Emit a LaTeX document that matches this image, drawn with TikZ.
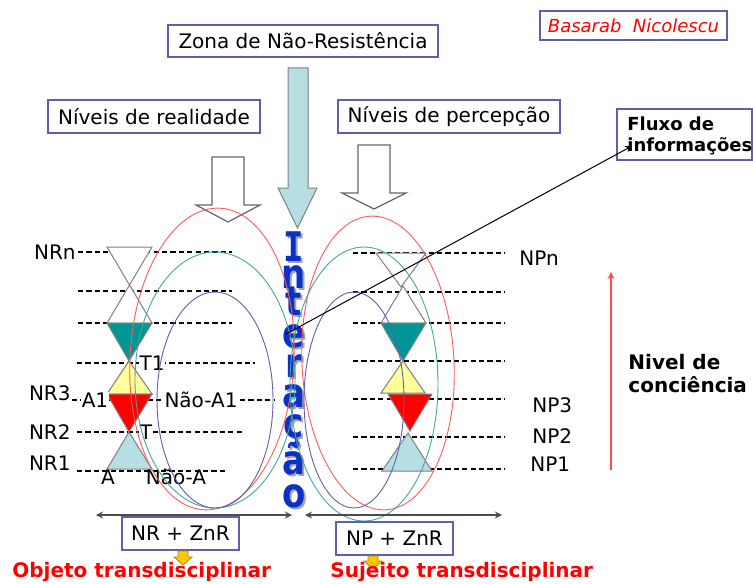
\documentclass[tikz,border=0pt]{standalone}
\usepackage{fontspec}
\setmainfont{DejaVu Sans}
\newfontfamily\serifI{DejaVu Sans Mono}
\usetikzlibrary{arrows}
\usetikzlibrary{positioning}
\definecolor{boxline}{RGB}{95,95,175}
\definecolor{tealfill}{RGB}{0,150,150}
\definecolor{pale}{RGB}{183,222,226}
\definecolor{lemon}{RGB}{255,255,153}
\definecolor{ringred}{RGB}{255,90,90}
\definecolor{ringteal}{RGB}{70,165,160}
\definecolor{ringblue}{RGB}{95,95,175}
\definecolor{interblue}{RGB}{10,50,200}
\definecolor{gold}{RGB}{255,200,0}
\newcommand{\shadowed}[1]{\scalebox{1}[1.2]{\makebox[0pt][l]{\hspace{1pt}\raisebox{-1pt}{\textcolor{black!35}{#1}}}\textcolor{interblue}{#1}}}
\tikzset{
    box/.style={
           draw=boxline, line width=0.6pt,
           inner sep=0pt,
           font=\fontsize{10}{12}\selectfont,
           },
}
\tikzset{
    lbl/.style={
           inner sep=0.5pt,
           font=\fontsize{10}{12}\selectfont,
           },
}
\tikzset{
    lvl/.style={
           dash pattern=on 2.6pt off 1.6pt,
           line width=0.7pt,
           },
}
\tikzset{
    tri/.style={
           draw=gray, line width=0.5pt,
           },
}
\tikzset{
    ring/.style={
           line width=0.45pt,
           },
}
\tikzset{
    letter/.style={
           inner sep=0pt, anchor=base,
           font=\bfseries\fontsize{17}{17}\selectfont,
           },
}
\tikzset{
    red title/.style={
           text=red, anchor=west, inner sep=0pt,
           font=\bfseries\fontsize{10}{12}\selectfont,
           },
}

\begin{document}
\begin{tikzpicture}[x=0.5pt,y=-0.5pt]
\useasboundingbox[fill=white] (0,0) rectangle (753,583);
% boxes at the top
\node[box,minimum width=135pt,minimum height=16pt](zona) at (303,41){Zona de Não-Resistência};
\node[box,minimum width=93.5pt,minimum height=14.5pt,text=red,font=\itshape\fontsize{9}{11}\selectfont](autor) at (633.5,25.5){Basarab\ \ Nicolescu};
\node[box,minimum width=106pt,minimum height=16.5pt](realidade) at (154,116.5){Níveis de realidade};
\node[box,minimum width=111pt,minimum height=16.5pt](percepcao) at (449,116.5){Níveis de percepção};
\node[box,minimum width=67.5pt,minimum height=25.5pt](fluxo) at (684.5,134.5){};
\node[anchor=west,align=left,inner sep=0pt,font=\bfseries\fontsize{9}{10.5}\selectfont](fluxotxt) at (627,135.5){Fluxo de\\informações};

% block arrows
\filldraw[draw=gray,fill=pale,line width=0.5pt] (288,68) -- (308,68) -- (308,188) -- (317,188) -- (297.5,228) -- (278,188) -- (288,188) -- cycle;
\filldraw[draw=gray!80!black,fill=white,line width=0.6pt] (212,157) -- (244,157) -- (244,205) -- (260,205) -- (228,222) -- (196,205) -- (212,205) -- cycle;
\filldraw[draw=gray!80!black,fill=white,line width=0.6pt] (358,145) -- (390,145) -- (390,193) -- (406,193) -- (374,209) -- (342,193) -- (358,193) -- cycle;

% levels
\foreach \y/\xa/\xb in {252/78/232,291/78/232,323/78/232,363/77/255,400/72/275,432/77/242,471/77/228}
    \draw[lvl] (\xa,\y) -- (\xb,\y);
\foreach \y in {253,292,323,361,399,437,469}
    \draw[lvl] (353,\y) -- (505,\y);

% triangles, left
\filldraw[tri,fill=white] (107,247) -- (152,247) -- (129.5,285) -- cycle;
\filldraw[tri,fill=white] (129.5,285) -- (107,323) -- (152,323) -- cycle;
\filldraw[tri,fill=tealfill] (107,323) -- (152,323) -- (129,361) -- cycle;
\filldraw[tri,fill=lemon] (129,361) -- (107,394) -- (152,394) -- cycle;
\filldraw[tri,fill=red] (107,394) -- (152,394) -- (129,432) -- cycle;
\filldraw[tri,fill=pale] (129,432) -- (107,469) -- (152,469) -- cycle;
% triangles, right
\filldraw[tri,fill=white] (376,253) -- (426,253) -- (401,287) -- cycle;
\filldraw[tri,fill=white] (403,286) -- (381,323) -- (426,323) -- cycle;
\filldraw[tri,fill=tealfill] (381,323) -- (426,323) -- (403,361) -- cycle;
\filldraw[tri,fill=lemon] (403,361) -- (381,393) -- (425,393) -- cycle;
\filldraw[tri,fill=red] (388,394) -- (432,394) -- (410,431) -- cycle;
\filldraw[tri,fill=pale] (408,433) -- (382,471) -- (432,471) -- cycle;

% level labels
\node[lbl,anchor=east](nrn) at (77,252){NRn};
\node[lbl,anchor=east](nr3) at (72,393){NR3};
\node[lbl,anchor=east](nr2) at (72,432){NR2};
\node[lbl,anchor=east](nr1) at (72,463){NR1};
\node[lbl,fill=white](t1) at (152,363){T1};
\node[lbl,fill=white](a1) at (95,400){A1};
\node[lbl,fill=white](naoa1) at (201,400){Não-A1};
\node[lbl,fill=white](t) at (146,432){T};
\node[lbl](a) at (108,477){A};
\node[lbl](naoa) at (176,477){Não-A};
\node[lbl,anchor=west](npn) at (518,258){NPn};
\node[lbl,anchor=west](np3) at (531,405){NP3};
\node[lbl,anchor=west](np2) at (531,436){NP2};
\node[lbl,anchor=west](np1) at (529,464){NP1};

% Interacao, one letter under the other
\foreach \ch/\y [count=\k] in {{\serifI I}/261,n/288,t/315,e/347,r/377,a/407,ç/437,ã/474,o/507}
    \node[letter](l\k) at (294,\y){\shadowed{\ch}};

% ellipses
\draw[ring,ringred,rotate around={-3:(212,359)}] (212,359) ellipse [x radius=82,y radius=151];
\draw[ring,ringteal] (215,380) ellipse [x radius=80,y radius=128];
\draw[ring,ringblue] (215,400) ellipse [x radius=58,y radius=108];
\draw[ring,ringred,rotate around={3:(378,363)}] (378,363) ellipse [x radius=76,y radius=147];
\draw[ring,ringteal] (364,384) ellipse [x radius=74,y radius=137];
\draw[ring,ringblue] (354,400) ellipse [x radius=50,y radius=108];

% flow of information
\coordinate (fluxopt) at (286,334);
\coordinate (fluxoend) at (632,146);
\draw[->,>=stealth,line width=0.5pt] (fluxopt) -- (fluxoend);

% level of consciousness
\coordinate (cbase) at (611,470);
\coordinate (ctop) at (611,272);
\draw[->,>=stealth,red!70,line width=0.6pt] (cbase) -- (ctop);
\node[anchor=west,align=left,inner sep=0pt,font=\bfseries\fontsize{10}{11.5}\selectfont](nivel) at (628,374){Nivel de\\conciência};

% bottom
\coordinate (nrl) at (96,515);
\coordinate (nrr) at (292,515);
\coordinate (npl) at (305,515);
\coordinate (npr) at (502,515);
\draw[<->,>=stealth,black!70,line width=0.6pt] (nrl) -- (nrr);
\draw[<->,>=stealth,black!70,line width=0.6pt] (npl) -- (npr);
\node[box,minimum width=58.5pt,minimum height=16.5pt](nrbox) at (180.5,533.5){NR + ZnR};
\node[box,minimum width=58.5pt,minimum height=16.5pt](npbox) at (394.5,538.5){NP + ZnR};
\filldraw[draw=gold!70!black,fill=gold,line width=0.4pt] (178,551) -- (188,551) -- (188,557) -- (192,557) -- (183,565) -- (174,557) -- (178,557) -- cycle;
\filldraw[draw=gold!70!black,fill=gold,line width=0.4pt] (368,556) -- (378,556) -- (378,561) -- (382,561) -- (373,569) -- (364,561) -- (368,561) -- cycle;
\node[red title](objeto) at (12,572){Objeto transdisciplinar};
\node[red title](sujeito) at (330,572){Sujeito transdisciplinar};
\end{tikzpicture}
\end{document}
